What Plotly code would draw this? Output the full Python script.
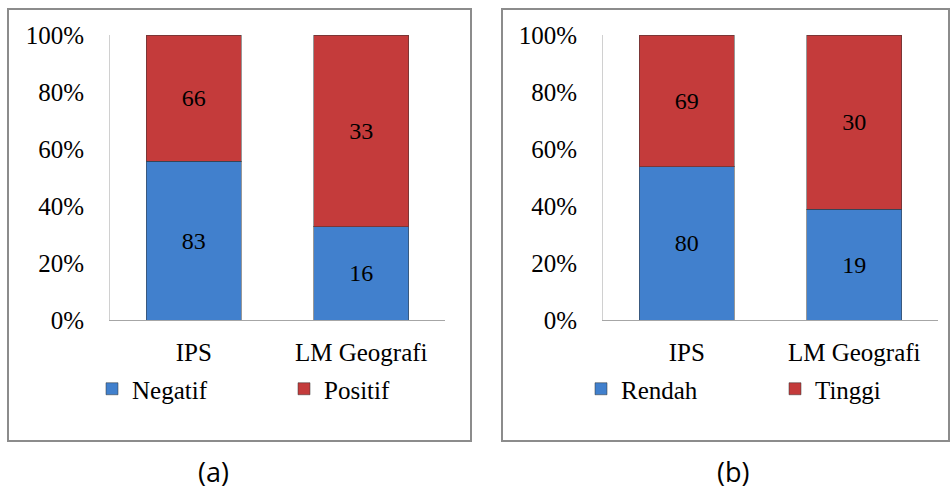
import plotly.graph_objects as go

categories = ["IPS", "LM Geografi"]
neg_a = [83, 16]
pos_a = [66, 33]
low_b = [80, 19]
high_b = [69, 30]
names_a = ["Negatif", "Positif"]
names_b = ["Rendah", "Tinggi"]
y_ticks = [0, 20, 40, 60, 80, 100]
y_tick_text = ["0%", "20%", "40%", "60%", "80%", "100%"]
captions = ["(a)", "(b)"]

W, H = 951, 489
BLUE = "#4180cd"
RED = "#c43b3b"
SERIF = "Liberation Serif"
FS = 25

def px(x):
    return x / W

def py(y):
    return 1 - y / H

fig = go.Figure()

def add_panel(vals1, vals2, names, xa, ya, legends):
    for vals, name, col, lg in ((vals1, names[0], BLUE, legends[0]),
                                (vals2, names[1], RED, legends[1])):
        fig.add_trace(go.Bar(
            x=categories, y=vals, name=name, xaxis=xa, yaxis=ya, legend=lg,
            showlegend=True,
            marker=dict(color=col, line=dict(color="rgba(50,50,50,0.5)", width=1)),
            text=[str(v) for v in vals], textposition="inside",
            insidetextanchor="middle",
            textfont=dict(family=SERIF, size=24, color="black"),
            hoverinfo="skip",
        ))

add_panel(neg_a, pos_a, names_a, "x", "y", ["legend", "legend2"])
add_panel(low_b, high_b, names_b, "x2", "y2", ["legend3", "legend4"])

ydom = [py(320), py(35)]
common_x = dict(showline=True, linecolor="#a6a6a6", linewidth=1, ticks="",
                tickfont=dict(family=SERIF, size=FS, color="black"),
                showgrid=False, fixedrange=True, ticklabelstandoff=10,
                automargin=False)
common_y = dict(showline=True, linecolor="#d0d0d0", linewidth=1, ticks="",
                range=[0, 100], tickvals=y_ticks, ticktext=y_tick_text,
                tickfont=dict(family=SERIF, size=FS, color="black"),
                showgrid=False, zeroline=False, fixedrange=True,
                ticklabelstandoff=20, automargin=False)

def leg(x):
    return dict(x=px(x), y=py(389), orientation="h", yanchor="middle",
                xanchor="left", font=dict(family=SERIF, size=FS, color="black"),
                itemwidth=30, bgcolor="rgba(0,0,0,0)", visible=True)

fig.update_layout(
    width=W, height=H,
    showlegend=True,
    margin=dict(l=0, r=0, t=0, b=0),
    paper_bgcolor="white", plot_bgcolor="white",
    barmode="stack", barnorm="percent", bargap=0.433,
    xaxis=dict(domain=[px(110), px(445)], anchor="y", **common_x),
    yaxis=dict(domain=ydom, anchor="x", **common_y),
    xaxis2=dict(domain=[px(603), px(938)], anchor="y2", **common_x),
    yaxis2=dict(domain=ydom, anchor="x2", **common_y),
    legend=leg(92),
    legend2=leg(284),
    legend3=leg(581),
    legend4=leg(775),
    shapes=[
        dict(type="rect", xref="paper", yref="paper", x0=px(8), x1=px(471),
             y0=py(441), y1=py(9), line=dict(color="#8c8c8c", width=2)),
        dict(type="rect", xref="paper", yref="paper", x0=px(502), x1=px(949),
             y0=py(441), y1=py(9), line=dict(color="#8c8c8c", width=2)),
    ],
    annotations=[
        dict(text=captions[0], x=px(213), y=py(471), xref="paper", yref="paper",
             xanchor="center", yanchor="middle",
             showarrow=False, font=dict(family="Open Sans", size=27, color="black")),
        dict(text=captions[1], x=px(733), y=py(471), xref="paper", yref="paper",
             xanchor="center", yanchor="middle",
             showarrow=False, font=dict(family="Open Sans", size=27, color="black")),
    ],
)

fig.write_html("out.html")
